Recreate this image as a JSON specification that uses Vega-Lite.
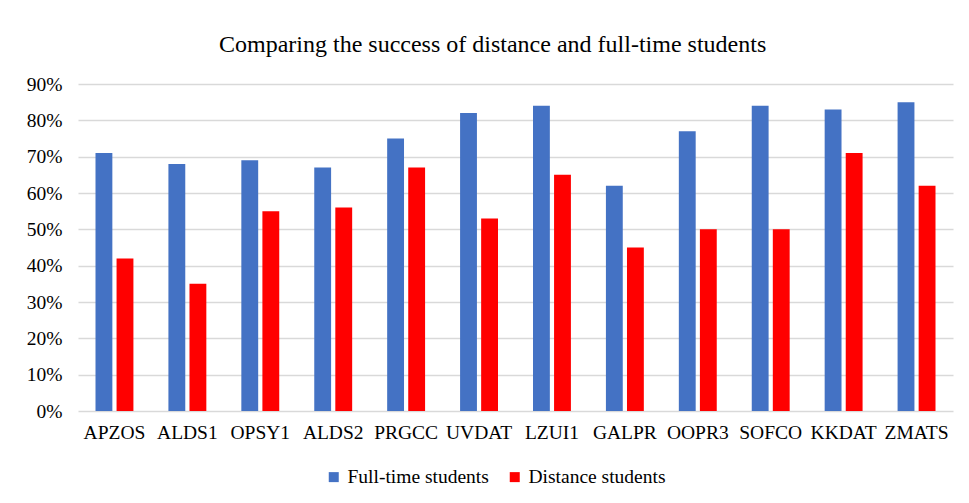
{
  "$schema": "https://vega.github.io/schema/vega-lite/v6.json",
  "width": 875,
  "height": 327,
  "autosize": "none",
  "padding": {"left": 78, "top": 84, "right": 16, "bottom": 92},
  "background": "white",
  "title": {
    "text": "Comparing the success of distance and full-time students",
    "font": "Liberation Serif",
    "fontSize": 24,
    "fontWeight": "normal",
    "color": "#000000",
    "anchor": "middle",
    "frame": "bounds",
    "offset": 17,
    "dx": 3
  },
  "data": {
    "values": [
      {"course": "APZOS", "type": "Full-time students", "value": 0.71},
      {"course": "APZOS", "type": "Distance students", "value": 0.42},
      {"course": "ALDS1", "type": "Full-time students", "value": 0.68},
      {"course": "ALDS1", "type": "Distance students", "value": 0.35},
      {"course": "OPSY1", "type": "Full-time students", "value": 0.69},
      {"course": "OPSY1", "type": "Distance students", "value": 0.55},
      {"course": "ALDS2", "type": "Full-time students", "value": 0.67},
      {"course": "ALDS2", "type": "Distance students", "value": 0.56},
      {"course": "PRGCC", "type": "Full-time students", "value": 0.75},
      {"course": "PRGCC", "type": "Distance students", "value": 0.67},
      {"course": "UVDAT", "type": "Full-time students", "value": 0.82},
      {"course": "UVDAT", "type": "Distance students", "value": 0.53},
      {"course": "LZUI1", "type": "Full-time students", "value": 0.84},
      {"course": "LZUI1", "type": "Distance students", "value": 0.65},
      {"course": "GALPR", "type": "Full-time students", "value": 0.62},
      {"course": "GALPR", "type": "Distance students", "value": 0.45},
      {"course": "OOPR3", "type": "Full-time students", "value": 0.77},
      {"course": "OOPR3", "type": "Distance students", "value": 0.50},
      {"course": "SOFCO", "type": "Full-time students", "value": 0.84},
      {"course": "SOFCO", "type": "Distance students", "value": 0.50},
      {"course": "KKDAT", "type": "Full-time students", "value": 0.83},
      {"course": "KKDAT", "type": "Distance students", "value": 0.71},
      {"course": "ZMATS", "type": "Full-time students", "value": 0.85},
      {"course": "ZMATS", "type": "Distance students", "value": 0.62}
    ]
  },
  "mark": {"type": "bar"},
  "encoding": {
    "x": {
      "field": "course",
      "type": "nominal",
      "sort": null,
      "scale": {"paddingInner": 0.48, "paddingOuter": 0.24},
      "axis": {
        "title": null,
        "labelAngle": 0,
        "ticks": false,
        "domain": false,
        "labelPadding": 12
      }
    },
    "xOffset": {
      "field": "type",
      "type": "nominal",
      "sort": ["Full-time students", "Distance students"],
      "scale": {"paddingInner": 0.2, "paddingOuter": 0}
    },
    "y": {
      "field": "value",
      "type": "quantitative",
      "scale": {"domain": [0, 0.9], "nice": false},
      "axis": {
        "title": null,
        "format": ".0%",
        "values": [0, 0.1, 0.2, 0.3, 0.4, 0.5, 0.6, 0.7, 0.8, 0.9],
        "ticks": false,
        "domain": false,
        "grid": true,
        "gridColor": "#D9D9D9",
        "gridWidth": 1.3,
        "labelPadding": 16
      }
    },
    "color": {
      "field": "type",
      "type": "nominal",
      "sort": ["Full-time students", "Distance students"],
      "scale": {"domain": ["Full-time students", "Distance students"], "range": ["#4472C4", "#FF0000"]},
      "legend": {
        "title": null,
        "orient": "none",
        "direction": "horizontal",
        "legendX": 246,
        "legendY": 383,
        "symbolType": "square",
        "symbolSize": 100,
        "symbolStrokeWidth": 0,
        "labelOffset": 4,
        "columnPadding": 16
      }
    }
  },
  "config": {
    "font": "Liberation Serif",
    "view": {"stroke": null},
    "axis": {"labelFont": "Liberation Serif", "labelFontSize": 19.5, "labelColor": "#000000"},
    "legend": {"labelFont": "Liberation Serif", "labelFontSize": 19.5, "labelColor": "#000000"}
  }
}
